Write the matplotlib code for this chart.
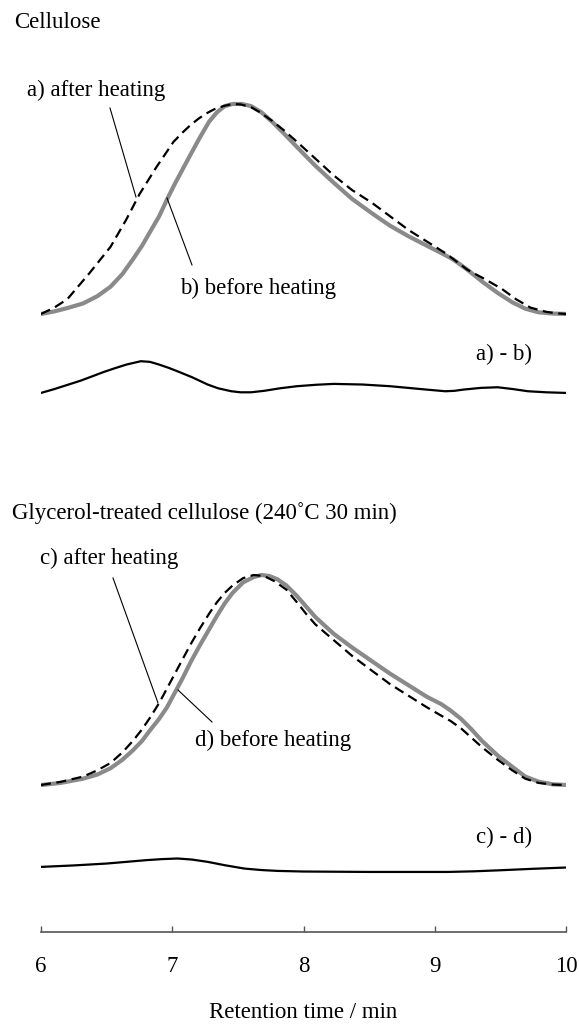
import numpy as np
import matplotlib
matplotlib.use("Agg")
import matplotlib.pyplot as plt
from matplotlib.lines import Line2D

plt.rcParams['font.family'] = ['Liberation Serif', 'DejaVu Serif']

# --- cellulose: relative intensity (%) vs retention time (min)
t_b = [6.0, 6.1, 6.2, 6.32, 6.43, 6.53, 6.62, 6.70, 6.77, 6.83, 6.90, 6.96, 7.02, 7.08,
       7.14, 7.21, 7.28, 7.34, 7.40, 7.46, 7.53, 7.60, 7.68, 7.77, 7.85, 7.95, 8.09, 8.23,
       8.37, 8.52, 8.66, 8.80, 8.94, 9.05, 9.14, 9.25, 9.37, 9.48, 9.59, 9.69, 9.79,
       9.90, 10.0]
before_b = [0, 1.2, 2.8, 5, 8.5, 13, 19, 26, 32.5, 39, 46.5, 54.5, 62, 69,
            76, 84, 91.5, 96, 99, 100, 100, 99, 96, 91, 86, 79.5, 70.6, 62.5,
            54.8, 48, 42, 37, 32.5, 29, 26, 21, 15, 10, 5.6, 2.5, 0.8,
            0.2, 0]
t_a = [6.0, 6.1, 6.2, 6.37, 6.53, 6.65, 6.75, 6.88, 7.01, 7.08, 7.14, 7.20, 7.26, 7.32,
       7.39, 7.46, 7.52, 7.60, 7.67, 7.76, 7.85, 7.95, 8.09, 8.23, 8.37, 8.52, 8.66,
       8.80, 8.94, 9.08, 9.25, 9.37, 9.51, 9.62, 9.73, 9.85, 9.93, 10.0]
after_a = [0, 3, 7, 19.5, 32, 45, 57, 70, 82, 86.5, 90, 93, 95.5, 97.5,
           99, 100, 99.8, 98.5, 96, 92, 87.5, 82, 74, 66, 59, 53, 46.5,
           40, 34.5, 29, 21, 17, 12, 7, 3, 1, 0.3, 0]
t_ab = [6.0, 6.1, 6.2, 6.3, 6.39, 6.47, 6.55, 6.65, 6.76, 6.83, 6.9, 6.97, 7.04, 7.15,
        7.27, 7.35, 7.45, 7.52, 7.6, 7.7, 7.82, 7.95, 8.1, 8.23, 8.45, 8.66, 8.9, 9.08,
        9.15, 9.22, 9.35, 9.48, 9.6, 9.71, 9.85, 10.0]
diff_ab = [0, 1.8, 3.8, 5.8, 7.9, 9.8, 11.5, 13.5, 15.1, 14.8, 13.5, 12.0, 10.3, 7.5,
           4.0, 2.2, 0.8, 0.3, 0.3, 1.0, 2.2, 3.2, 3.9, 4.3, 4.0, 3.2, 1.8, 0.8,
           1.0, 1.6, 2.4, 2.7, 1.8, 0.8, 0.3, 0]

# --- glycerol-treated cellulose
t_d = [6.0, 6.15, 6.32, 6.43, 6.53, 6.62, 6.70, 6.77, 6.83, 6.90, 6.96, 7.02, 7.08, 7.14,
       7.21, 7.28, 7.34, 7.40, 7.46, 7.54, 7.62, 7.68, 7.74, 7.80, 7.87, 7.95, 8.02,
       8.09, 8.23, 8.37, 8.52, 8.66, 8.80, 8.94, 9.05, 9.12, 9.20, 9.28, 9.36, 9.48,
       9.59, 9.69, 9.79, 9.90, 10.0]
before_d = [0, 1, 3, 5, 8, 12, 16.5, 21, 26, 31.5, 37, 44, 51, 58.5,
            66.5, 74, 80.5, 86.5, 91.5, 96.5, 99, 100, 99.5, 98, 95, 90, 85,
            80, 72, 65.5, 59, 53, 47.5, 42, 38.5, 35.5, 31.5, 26.5, 21, 14,
            8.7, 4, 1.6, 0.3, 0]
t_c = [6.0, 6.15, 6.32, 6.43, 6.53, 6.62, 6.70, 6.77, 6.83, 6.90, 6.96, 7.02, 7.08, 7.14,
       7.21, 7.28, 7.34, 7.40, 7.46, 7.54, 7.62, 7.70, 7.78, 7.87, 7.95, 8.02, 8.09,
       8.23, 8.37, 8.52, 8.66, 8.80, 8.94, 9.05, 9.12, 9.20, 9.28, 9.36, 9.48, 9.59,
       9.69, 9.79, 9.90, 10.0]
after_c = [0, 1.5, 4, 7, 10.5, 15.5, 21, 26.5, 32, 39, 46, 53, 60, 67,
           74.5, 81.5, 87, 91.5, 95, 98.5, 100, 99.5, 97, 93, 87, 81.5, 76.5,
           69, 61.5, 54.5, 48, 42.5, 37, 33, 30.5, 27, 22.5, 18, 12, 7,
           3, 1, 0.2, 0]
t_cd = [6.0, 6.25, 6.5, 6.65, 6.8, 6.92, 7.04, 7.15, 7.27, 7.4, 7.55, 7.68, 7.8, 8.0,
        8.5, 9.1, 9.3, 9.5, 9.75, 10.0]
diff_cd = [0, 0.7, 1.6, 2.4, 3.2, 3.7, 4.0, 3.5, 2.4, 0.8, -0.8, -1.5, -1.9, -2.2,
           -2.4, -2.4, -2.1, -1.6, -0.9, -0.3]

xticks = [6, 7, 8, 9, 10]

# vertical offsets of each trace (same units)
off_top, off_ab, off_bot, off_cd = 294.3, 256.7, 70.0, 31.0

W, H = 579, 1028
fig = plt.figure(figsize=(W / 100, H / 100), dpi=100)
ax = fig.add_axes([41 / W, 96 / H, 525 / W, 932 / H])

gray = '#8a8a8a'
dash = (0, (4.5, 2.5))
ax.plot(t_b, np.array(before_b) + off_top, color=gray, lw=3.0, solid_capstyle='round',
        solid_joinstyle='round')
ax.plot(t_a, np.array(after_a) + off_top, color='black', lw=1.6, ls=dash)
ax.plot(t_ab, np.array(diff_ab) + off_ab, color='black', lw=1.6, solid_joinstyle='round')

ax.plot(t_d, np.array(before_d) + off_bot, color=gray, lw=3.0, solid_capstyle='round',
        solid_joinstyle='round')
ax.plot(t_c, np.array(after_c) + off_bot, color='black', lw=1.6, ls=dash)
ax.plot(t_cd, np.array(diff_cd) + off_cd, color='black', lw=1.6, solid_joinstyle='round')

ax.set_xlim(6, 10)
ax.set_ylim(0, 932 / 2.1)
for s in ['top', 'left', 'right']:
    ax.spines[s].set_visible(False)
ax.spines['bottom'].set_color('#555555')
ax.spines['bottom'].set_linewidth(1.2)
ax.set_yticks([])
ax.set_xticks(xticks)
ax.set_xticklabels([str(v) for v in xticks])
ax.tick_params(axis='x', direction='in', length=4.5, width=1.0, color='#555555',
               labelsize=16.5, pad=17)
ax.set_xlabel('Retention time / min', fontsize=16.5)
ax.xaxis.label.set_va('center')
ax.xaxis.set_label_coords(0.5, -80 / 932)


def fx(px):
    return px / W


def fy(py):
    return 1 - py / H


fs = 16.5
labels = [
    ('Cellulose', 14, 23),
    ('a) after heating', 27, 90),
    ('b) before heating', 180, 288),
    ('a) - b)', 476, 354),
    ('Glycerol-treated cellulose (240˚C 30 min)', 12, 513),
    ('c) after heating', 40, 558),
    ('d) before heating', 195, 740),
    ('c) - d)', 476, 837),
]
for txt, x, y in labels:
    fig.text(fx(x), fy(y), txt, fontsize=fs, ha='left', va='center')

leaders = [((110, 108), (136, 197)), ((167, 198), (192, 265)),
           ((113, 578), (158, 703)), ((178, 690), (212, 722))]
for (x0, y0), (x1, y1) in leaders:
    fig.add_artist(Line2D([fx(x0), fx(x1)], [fy(y0), fy(y1)], color='black', lw=0.8,
                          transform=fig.transFigure))

fig.savefig('out.png', dpi=100)
